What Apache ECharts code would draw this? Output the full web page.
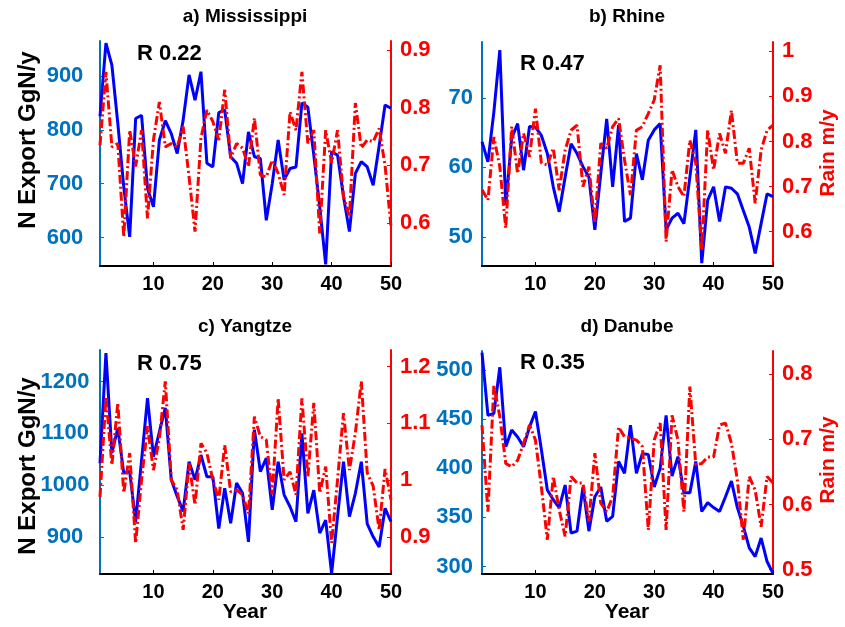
<!DOCTYPE html>
<html>
<head>
<meta charset="utf-8">
<script src="https://cdn.jsdelivr.net/npm/echarts@6.0.0/dist/echarts.min.js"></script>
<style>
html,body{margin:0;padding:0;background:#fff;}
#chart{width:845px;height:627px;}
</style>
</head>
<body>
<div id="chart"></div>
<script>
const years = [1,2,3,4,5,6,7,8,9,10,11,12,13,14,15,16,17,18,19,20,21,22,23,24,25,26,27,28,29,30,31,32,33,34,35,36,37,38,39,40,41,42,43,44,45,46,47,48,49,50];
const xTicks = [10,20,30,40,50];

const panelTitles = ['a) Mississippi','b) Rhine','c) Yangtze','d) Danube'];
const rTexts = ['R 0.22','R 0.47','R 0.75','R 0.35'];

const missN = [825,961,920,812,694,601,821,827,691,657,781,817,793,756,818,902,855,908,738,731,832,837,750,738,700,796,750,747,632,700,781,707,728,731,850,842,753,657,550,759,753,676,611,719,741,731,697,770,846,840];
const missR = [0.735,0.862,0.732,0.738,0.576,0.761,0.698,0.761,0.608,0.744,0.810,0.732,0.738,0.732,0.767,0.680,0.585,0.747,0.796,0.776,0.744,0.831,0.712,0.738,0.730,0.698,0.782,0.683,0.680,0.709,0.686,0.649,0.793,0.761,0.862,0.738,0.761,0.582,0.761,0.704,0.761,0.646,0.611,0.808,0.730,0.744,0.741,0.764,0.700,0.594];

const rhineN = [63.7,60.8,68,76.9,54.6,64.2,66.3,59.6,65.9,65.8,64.6,62,57.2,53.6,58.6,63.4,62,60.1,58.6,51,59.1,67,57.2,66.1,52.2,52.7,62,58.2,63.9,65.4,66.3,51,52.7,53.4,51.9,58.6,65.4,46.2,55.3,57.2,52.2,57.2,57,56.2,53.8,51.4,47.6,51.9,56.2,55.8];
const rhineR = [0.693,0.670,0.810,0.744,0.608,0.833,0.729,0.818,0.766,0.873,0.752,0.748,0.785,0.692,0.781,0.825,0.836,0.700,0.744,0.619,0.796,0.785,0.833,0.851,0.759,0.681,0.825,0.833,0.862,0.892,0.969,0.578,0.737,0.700,0.678,0.803,0.752,0.560,0.825,0.737,0.818,0.774,0.869,0.752,0.752,0.785,0.663,0.781,0.825,0.836];

const yangN = [1042,1255,1062,1110,1023,1026,929,1048,1168,1055,1103,1149,1010,978,949,1045,1010,1058,1016,1016,916,994,926,1004,984,890,1107,1026,1052,952,1045,981,958,929,1100,945,990,907,932,829,939,1045,939,984,1045,925,900,880,955,929];
const yangR = [0.971,1.147,1.027,1.136,0.978,1.048,0.890,1.001,1.095,1.018,1.074,1.174,1.001,0.983,0.913,1.030,0.957,1.065,1.048,1.001,0.966,1.062,0.980,0.983,0.975,0.942,1.112,1.077,1.071,0.975,1.144,1.001,1.015,0.975,1.144,1.007,1.136,0.978,1.024,0.890,1.001,1.118,1.018,1.083,1.174,1.013,0.990,0.913,1.020,0.966];

const danN = [518,454,456,503,422,439,432,422,442,458,419,378,368,360,383,334,336,381,336,371,381,346,351,407,395,444,395,415,414,381,400,454,392,412,375,375,407,356,365,360,356,371,387,360,341,319,310,329,305,293];
const danR = [0.722,0.589,0.783,0.735,0.663,0.658,0.668,0.694,0.722,0.699,0.627,0.546,0.643,0.592,0.551,0.643,0.633,0.633,0.574,0.679,0.602,0.589,0.612,0.719,0.704,0.702,0.699,0.689,0.561,0.699,0.725,0.561,0.737,0.699,0.589,0.781,0.661,0.663,0.673,0.673,0.722,0.725,0.694,0.638,0.546,0.643,0.622,0.566,0.643,0.633];

const missNTicks = [600,700,800,900];
const missRTicks = [0.6,0.7,0.8,0.9];
const rhineNTicks = [50,60,70];
const rhineRTicks = [0.6,0.7,0.8,0.9,1];
const yangNTicks = [900,1000,1100,1200];
const yangRTicks = [0.9,1,1.1,1.2];
const danNTicks = [300,350,400,450,500];
const danRTicks = [0.5,0.6,0.7,0.8];

const FONT = 'Liberation Sans';
const AX_BLUE = '#0072BD';
const LINE_BLUE = '#0000FF';
const RED = '#FF0000';

const panels = [
  {grid:{left:100,right:454,top:41,height:225}, N:missN, R:missR, nMin:547, nMax:965, nTicks:missNTicks, rMin:0.5255, rMax:0.9156, rTicks:missRTicks, lAlign:'center', lMargin:35},
  {grid:{left:482,right:72,top:42,height:224}, N:rhineN, R:rhineR, nMin:45.8, nMax:78.06, nTicks:rhineNTicks, rMin:0.524, rMax:1.0206, rTicks:rhineRTicks, lAlign:'right', lMargin:9},
  {grid:{left:100,right:454,top:350,height:224}, N:yangN, R:yangR, nMin:828, nMax:1261, nTicks:yangNTicks, rMin:0.8355, rMax:1.229, rTicks:yangRTicks, lAlign:'center', lMargin:35},
  {grid:{left:482,right:72,top:351,height:223}, N:danN, R:danR, nMin:292.3, nMax:519.6, nTicks:danNTicks, rMin:0.4934, rMax:0.8357, rTicks:danRTicks, lAlign:'right', lMargin:9}
];

const fmt = v => String(parseFloat(Number(v).toFixed(3)));

const grids = [], xAxes = [], yAxes = [], series = [];
panels.forEach((p, i) => {
  grids.push(p.grid);
  xAxes.push({
    type:'category', gridIndex:i, data:years, boundaryGap:false,
    axisLine:{show:true, lineStyle:{color:'#000', width:2}},
    axisTick:{show:true, inside:true, length:4, interval:(idx)=> xTicks.indexOf(years[idx]) >= 0, lineStyle:{color:'#000', width:1}},
    axisLabel:{show:true, interval:(idx)=> xTicks.indexOf(years[idx]) >= 0, margin:8, fontFamily:FONT, fontWeight:'bold', fontSize:20, color:'#000'},
    splitLine:{show:false}
  });
  yAxes.push({
    type:'value', gridIndex:i, position:'left', min:p.nMin, max:p.nMax,
    axisLine:{show:true, lineStyle:{color:AX_BLUE, width:2}},
    axisTick:{show:true, inside:true, length:4, customValues:p.nTicks, lineStyle:{color:AX_BLUE, width:1}},
    axisLabel:{show:true, customValues:p.nTicks, formatter:fmt, align:p.lAlign, margin:p.lMargin, fontFamily:FONT, fontWeight:'bold', fontSize:22, color:AX_BLUE},
    splitLine:{show:false}
  });
  yAxes.push({
    type:'value', gridIndex:i, position:'right', min:p.rMin, max:p.rMax,
    axisLine:{show:true, lineStyle:{color:RED, width:2}},
    axisTick:{show:true, inside:true, length:4, customValues:p.rTicks, lineStyle:{color:RED, width:1}},
    axisLabel:{show:true, customValues:p.rTicks, formatter:fmt, align:'left', margin:9, fontFamily:FONT, fontWeight:'bold', fontSize:22, color:RED},
    splitLine:{show:false}
  });
  series.push({
    type:'line', xAxisIndex:i, yAxisIndex:2*i, data:p.N, symbol:'none', silent:true, animation:false,
    lineStyle:{color:LINE_BLUE, width:3}
  });
  series.push({
    type:'line', xAxisIndex:i, yAxisIndex:2*i+1, data:p.R, symbol:'none', silent:true, animation:false,
    lineStyle:{color:RED, width:3, type:[9,3,2,3]}
  });
});

const txt = (text, x, y, opts) => Object.assign({
  type:'text', x:x, y:y, silent:true,
  style:Object.assign({text:text, fontFamily:FONT, fontWeight:'bold', fontSize:19, fill:'#000', align:'center', verticalAlign:'middle'}, (opts||{}).style||{})
}, (opts||{}).rotation !== undefined ? {rotation:opts.rotation} : {});

const graphics = [
  txt(panelTitles[0], 245, 17),
  txt(panelTitles[1], 627, 17),
  txt(panelTitles[2], 245, 327),
  txt(panelTitles[3], 627, 327),
  txt(rTexts[0], 137, 54, {style:{align:'left', fontSize:22}}),
  txt(rTexts[1], 520, 64, {style:{align:'left', fontSize:22}}),
  txt(rTexts[2], 137, 364, {style:{align:'left', fontSize:22}}),
  txt(rTexts[3], 520, 363, {style:{align:'left', fontSize:22}}),
  txt('Year', 245, 612, {style:{fontSize:21}}),
  txt('Year', 627, 612, {style:{fontSize:21}}),
  txt('N Export GgN/y', 28, 140, {rotation:Math.PI/2, style:{fontSize:24}}),
  txt('N Export GgN/y', 28, 466, {rotation:Math.PI/2, style:{fontSize:24}}),
  txt('Rain m/y', 828, 153, {rotation:Math.PI/2, style:{fontSize:21, fill:RED}}),
  txt('Rain m/y', 828, 460, {rotation:Math.PI/2, style:{fontSize:21, fill:RED}})
];

const chart = echarts.init(document.getElementById('chart'), null, {renderer:'canvas'});
chart.setOption({
  animation:false,
  backgroundColor:'#fff',
  grid:grids, xAxis:xAxes, yAxis:yAxes, series:series,
  graphic:graphics
});
</script>
</body>
</html>
